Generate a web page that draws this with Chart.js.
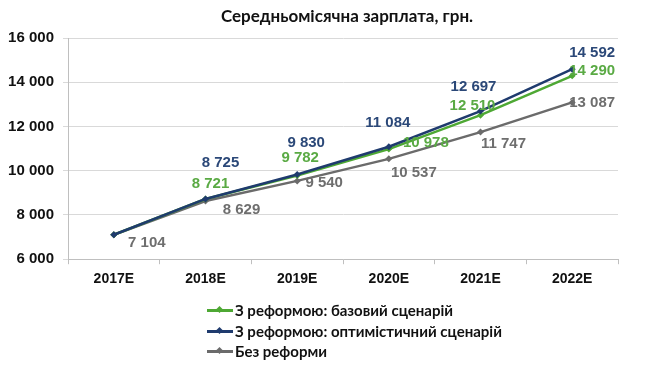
<!DOCTYPE html>
<html>
<head>
<meta charset="utf-8">
<script src="https://cdn.jsdelivr.net/npm/chart.js@4/dist/chart.umd.min.js"></script>
<style>
  body { margin: 0; background: #fff; }
  #wrap { position: relative; width: 660px; height: 365px; }
  #title { position: absolute; left: 347px; top: 5px; transform: translateX(-50%);
           font: bold 17px Lato, sans-serif; color: #111; white-space: nowrap; }
  #legend { position: absolute; left: 207px; top: 300px; font: bold 15px Lato, sans-serif; color: #111; }
  .row { height: 20.5px; display: flex; align-items: center; white-space: nowrap; }
  .sw { position: relative; width: 26px; height: 14px; margin-right: 2px; }
  .sw .ln { position: absolute; left: 0; right: 0; top: 6px; height: 3px; }
  .sw .dm { position: absolute; left: 10px; top: 4px; width: 5px; height: 5px; transform: rotate(45deg); }
</style>
</head>
<body>
<div id="wrap">
  <canvas id="mycanvas" width="660" height="365"></canvas>
  <div id="title">Середньомісячна зарплата, грн.</div>
  <div id="legend"></div>
</div>
<script>
// ** Average monthly salary line chart

var years = ['2017E', '2018E', '2019E', '2020E', '2021E', '2022E'];
var baseName = 'З реформою: базовий сценарій';
var optName = 'З реформою: оптимістичний сценарій';
var noName = 'Без реформи';
var baseVals = [7104, 8721, 9782, 10978, 12510, 14290];
var optVals = [7104, 8725, 9830, 11084, 12697, 14592];
var noVals = [7104, 8629, 9540, 10537, 11747, 13087];
var yTicks = [6000, 8000, 10000, 12000, 14000, 16000];

// label offsets from each point (null = no label)
var baseOff = [null, [5, -15], [3, -18], [37, -6], [-8, -9], [20, -5]];
var optOff = [null, [15, -36], [9, -32], [-1, -24], [-7, -24], [20, -16]];
var noOff = [[33, 8], [36, 9], [27, 2], [25, 14], [23, 12], [20, 0]];

function fmt(v) {
	return String(v).replace(/\B(?=(\d{3})+(?!\d))/g, ' ');
}

var valueLabels = {
	id: 'valueLabels',
	afterDatasetsDraw: function(chart) {
		var ctx = chart.ctx;
		ctx.save();
		ctx.font = 'bold 15px "Liberation Sans", Arial, sans-serif';
		ctx.textAlign = 'center';
		ctx.textBaseline = 'middle';
		chart.data.datasets.forEach(function(ds, i) {
			var meta = chart.getDatasetMeta(i);
			meta.data.forEach(function(pt, j) {
				var off = ds.labelOff[j];
				if (!off) return;
				ctx.fillStyle = ds.labelColor;
				ctx.fillText(fmt(ds.data[j]), pt.x + off[0], pt.y + off[1]);
			});
		});
		ctx.restore();
	}
};

var chartdata = {
	labels: years,
	datasets: [{
		label: baseName,
		data: baseVals,
		borderColor: '#4ea834',
		backgroundColor: '#4ea834',
		labelColor: '#5aaa44',
		labelOff: baseOff,
		order: 2
	}, {
		label: optName,
		data: optVals,
		borderColor: '#1f3b6e',
		backgroundColor: '#1f3b6e',
		labelColor: '#2b4878',
		labelOff: optOff,
		order: 1
	}, {
		label: noName,
		data: noVals,
		borderColor: '#6b6b6b',
		backgroundColor: '#6b6b6b',
		labelColor: '#6e6e6e',
		labelOff: noOff,
		order: 3
	}]
};

chartdata.datasets.forEach(function(ds) {
	ds.borderWidth = 2.5;
	ds.pointStyle = 'rectRot';
	ds.pointRadius = 3.5;
	ds.pointBorderWidth = 0;
	ds.tension = 0;
});

var ctx = document.getElementById('mycanvas');
var lineGraph = new Chart(ctx, {
	type: 'line',
	data: chartdata,
	plugins: [valueLabels],
	options: {
		responsive: false,
		animation: false,
		devicePixelRatio: 1,
		layout: { padding: { top: 38, right: 42, bottom: 70, left: 0 } },
		plugins: {
			legend: { display: false },
			title: { display: false },
			tooltip: { enabled: false }
		},
		scales: {
			x: {
				offset: true,
				grid: { offset: true, drawOnChartArea: false, drawTicks: true, tickLength: 5, color: '#bfbfbf' },
				border: { color: '#bfbfbf' },
				ticks: { color: '#111', padding: 7, font: { family: '"Liberation Sans", Arial', size: 14, weight: 'bold' } }
			},
			y: {
				min: 6000,
				max: 16000,
				afterFit: function(scale) { scale.width = 68; },
				afterBuildTicks: function(scale) {
					scale.ticks = yTicks.map(function(v) { return { value: v }; });
				},
				grid: { color: '#d9d9d9', tickLength: 5 },
				border: { color: '#bfbfbf' },
				ticks: {
					color: '#111',
					padding: 9,
					font: { family: '"Liberation Sans", Arial', size: 15, weight: 'bold' },
					callback: function(v) { return fmt(v); }
				}
			}
		}
	}
});

// legend stacked like the source
var legend = document.getElementById('legend');
chartdata.datasets.forEach(function(ds) {
	var row = document.createElement('div');
	row.className = 'row';
	row.innerHTML = '<span class="sw"><span class="ln" style="background:' + ds.borderColor +
		'"></span><span class="dm" style="background:' + ds.borderColor + '"></span></span>' + ds.label;
	legend.appendChild(row);
});
</script>
</body>
</html>
